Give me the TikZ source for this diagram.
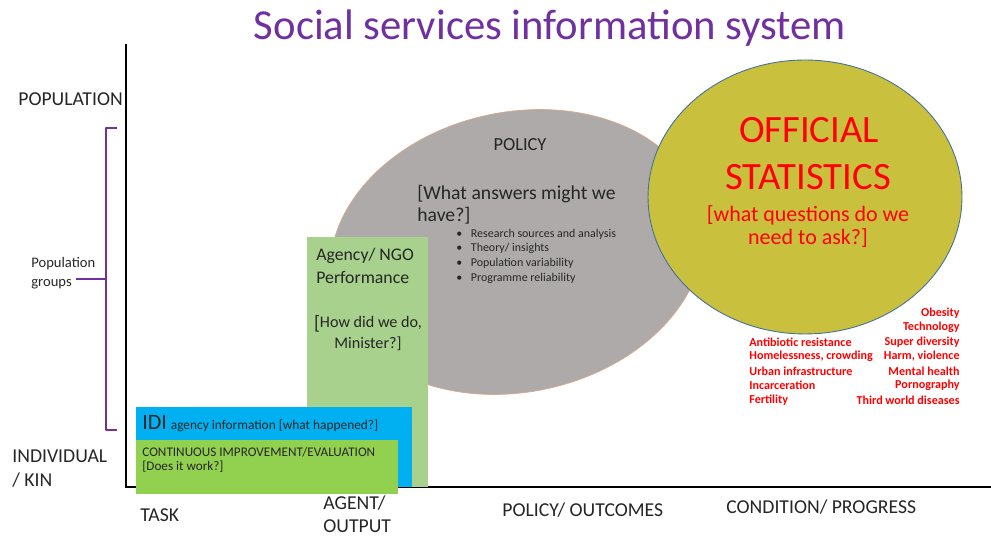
\documentclass[tikz,border=0pt]{standalone}
\usepackage{fontspec}
\setmainfont{Carlito}
\usepackage{tikz}
\usetikzlibrary{positioning,shapes.geometric}
\usepackage{xcolor}
\definecolor{ssipurple}{RGB}{112,48,160}
\definecolor{ssigrey}{RGB}{174,170,170}
\definecolor{ssirim}{RGB}{214,168,140}
\definecolor{ssiyellow}{RGB}{201,192,62}
\definecolor{ssiedge}{RGB}{65,113,156}
\definecolor{ssiblue}{RGB}{0,176,240}
\definecolor{ssigreen}{RGB}{146,208,80}
\definecolor{ssilight}{RGB}{169,209,142}
\definecolor{ssired}{RGB}{255,0,0}
\definecolor{ssitext}{RGB}{38,38,38}
\newcommand{\fsz}[2]{\fontsize{#1pt}{#2pt}\selectfont}

\begin{document}
\begin{tikzpicture}[
    x=0.02cm, y=-0.02cm,
    axis/.style={line width=1.6pt, black},
    bracket/.style={ssipurple, line width=1.3pt, line join=round},
    axislabel/.style={anchor=west, inner sep=0pt, font=\fsz{11.2}{13}, text=ssitext},
    box/.style={rectangle, anchor=north west, inner sep=0pt},
    boxtext/.style={anchor=west, inner sep=0pt, text=ssitext},
    bulletitem/.style={anchor=west, inner sep=0pt, font=\fsz{6.8}{8}, text=ssitext},
    redleft/.style={anchor=west, inner sep=0pt, font=\bfseries\fsz{6.9}{8}, text=ssired},
    redright/.style={anchor=east, inner sep=0pt, font=\bfseries\fsz{6.9}{8}, text=ssired},
    stattext/.style={inner sep=0pt, text=ssired}
  ]
    \useasboundingbox (0,0) rectangle (991,536);

    % title
    \node[font=\fsz{24.3}{29}, text=ssipurple] (title) at (550,28) {Social services information system};

    % axes
    \coordinate (ytop) at (126,44);
    \coordinate (origin) at (126,487);
    \coordinate (xend) at (991,487);
    \draw[axis] (ytop) -- (origin) -- (xend);

    % vertical axis labels and bracket
    \node[axislabel] (population) at (18,99) {POPULATION};
    \node[axislabel] (individual) at (12,456) {INDIVIDUAL};
    \node[axislabel] (kin) at (12,480) {/ KIN};
    \node[anchor=west, inner sep=0pt, align=left, font=\fsz{8.3}{10.5}, text=ssitext] (groups) at (31,273) {Population\\groups};
    \coordinate (brtop) at (117,128);
    \coordinate (brbot) at (117,430);
    \coordinate (brmid) at (106,279);
    \draw[bracket] (brtop) -- (106,128) -- (106,430) -- (brbot);
    \draw[bracket] (brmid) -- (76,279);

    % horizontal axis labels
    \node[axislabel] (task) at (140,515) {TASK};
    \node[axislabel] (agent) at (323,503) {AGENT/};
    \node[axislabel] (output) at (323,526) {OUTPUT};
    \node[axislabel] (outcomes) at (502,510) {POLICY/ OUTCOMES};
    \node[axislabel] (progress) at (726,507) {CONDITION/ PROGRESS};

    % policy ellipse
    \node[ellipse, fill=ssigrey, draw=ssirim, line width=0.4pt,
          minimum width=7.55cm, minimum height=5.6cm, rotate=12] (policy) at (517,252) {};
    \node[inner sep=0pt, font=\fsz{10.5}{12.5}, text=ssitext] (policyhead) at (520,145) {POLICY};
    \node[boxtext, font=\fsz{11.2}{13}] (answers1) at (417,194) {[What answers might we};
    \node[boxtext, font=\fsz{11.2}{13}] (answers2) at (417,216) {have?]};
    \foreach \txt [count=\i] in {Research sources and analysis, Theory/ insights,
        Population variability, Programme reliability}
      \node[bulletitem] (item\i) at (456,{219.5+14.6*\i}) {\makebox[8.3pt][l]{\textbullet}\txt};

    % official statistics circle
    \node[ellipse, fill=ssiyellow, draw=ssiedge, line width=0.5pt,
          minimum width=6.28cm, minimum height=5.48cm] (stats) at (805,197) {};
    \node[stattext, font=\fsz{22}{26}] (official) at (809,130) {OFFICIAL};
    \node[stattext, font=\fsz{22}{26}] (statistics) at (808,177) {STATISTICS};
    \node[stattext, font=\fsz{12.5}{15}] (questions1) at (808,215) {[what questions do we};
    \node[stattext, font=\fsz{12.5}{15}] (questions2) at (808,238) {need to ask?]};

    % conditions
    \foreach \txt [count=\i] in {Antibiotic resistance, {Homelessness, crowding},
        Urban infrastructure, Incarceration, Fertility}
      \node[redleft] (condl\i) at (749,{327.5+14.5*\i}) {\txt};
    \foreach \txt [count=\i] in {Obesity, Technology, Super diversity, {Harm, violence},
        Mental health, Pornography, Third world diseases}
      \node[redright] (condr\i) at (960,{298.5+14.5*\i}) {\txt};

    % agency box
    \node[box, fill=ssilight, minimum width=2.42cm, minimum height=5.0cm] (agency) at (307,237) {};
    \node[boxtext, font=\fsz{10.1}{12}] (agency1) at (316,256) {Agency/ NGO};
    \node[boxtext, font=\fsz{10.1}{12}] (agency2) at (316,277) {Performance};
    \node[inner sep=0pt, font=\fsz{9.2}{11}, text=ssitext] (minister1) at (368,324) {\raisebox{-1pt}{\fsz{11}{12}[}How did we do,};
    \node[inner sep=0pt, font=\fsz{9.2}{11}, text=ssitext] (minister2) at (368,344) {Minister?]};

    % IDI box
    \node[box, fill=ssiblue, minimum width=5.52cm, minimum height=1.6cm] (idi) at (136,407) {};
    \node[boxtext] (idihead) at (142,424) {{\fsz{12.5}{14}IDI} {\fsz{7.6}{10}agency information [what happened?]}};

    % continuous improvement box
    \node[box, fill=ssigreen, minimum width=5.24cm, minimum height=1.08cm] (improve) at (136,440) {};
    \node[boxtext, font=\fsz{7.5}{9}] (improve1) at (142,452) {CONTINUOUS IMPROVEMENT/EVALUATION};
    \node[boxtext, font=\fsz{7.5}{9}] (improve2) at (142,467) {[Does it work?]};
  \end{tikzpicture}
\end{document}
